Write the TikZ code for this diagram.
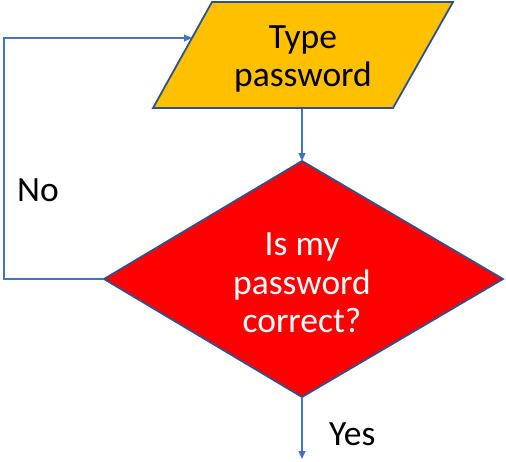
\documentclass[tikz,border=0pt]{standalone}
\usepackage{fontspec}
\setmainfont{Carlito}
\usetikzlibrary{arrows.meta}
\definecolor{conn}{HTML}{4472C4}
\definecolor{edge}{HTML}{2F528F}
\definecolor{gold}{HTML}{FFC000}
\tikzset{
  shapeline/.style={draw=edge,line width=1.8pt,line join=miter},
  conline/.style={draw=conn,line width=1.2pt,-{Triangle[length=8pt,width=7pt]}},
  lbl/.style={font=\fontsize{35.5}{38.5}\selectfont,align=center,inner sep=0pt}
}
\begin{document}
\begin{tikzpicture}[x=1pt,y=-1pt]
\useasboundingbox (0,0) rectangle (506,461);
% parallelogram
\coordinate (pTL) at (212,2);
\coordinate (pTR) at (453,2);
\coordinate (pBR) at (393,108);
\coordinate (pBL) at (153,108);
\fill[gold] (pTL) -- (pTR) -- (pBR) -- (pBL) -- cycle;
\draw[shapeline] (pTL) -- (pTR) -- (pBR) -- (pBL) -- cycle;
\node[lbl] (ptext) at (303,59) {Type\\password};
% diamond
\coordinate (dT) at (302,161);
\coordinate (dR) at (503,279);
\coordinate (dB) at (302,397);
\coordinate (dL) at (104,279);
\fill[red] (dT) -- (dR) -- (dB) -- (dL) -- cycle;
\draw[shapeline] (dT) -- (dR) -- (dB) -- (dL) -- cycle;
\node[lbl,text=white] (dtext) at (302,283) {Is my\\password\\correct?};
% connectors
\coordinate (pBot) at (302,109);
\coordinate (pIn) at (192,38);
\coordinate (cBL) at (4,279);
\coordinate (cTL) at (4,38);
\coordinate (yEnd) at (302,459);
\draw[conline] (pBot) -- (dT);
\draw[conline] (dL) -- (cBL) -- (cTL) -- (pIn);
\draw[conline] (dB) -- (yEnd);
\node[lbl,anchor=west] (no) at (17,190) {No};
\node[lbl,anchor=west] (yes) at (329,434) {Yes};
\end{tikzpicture}
\end{document}
